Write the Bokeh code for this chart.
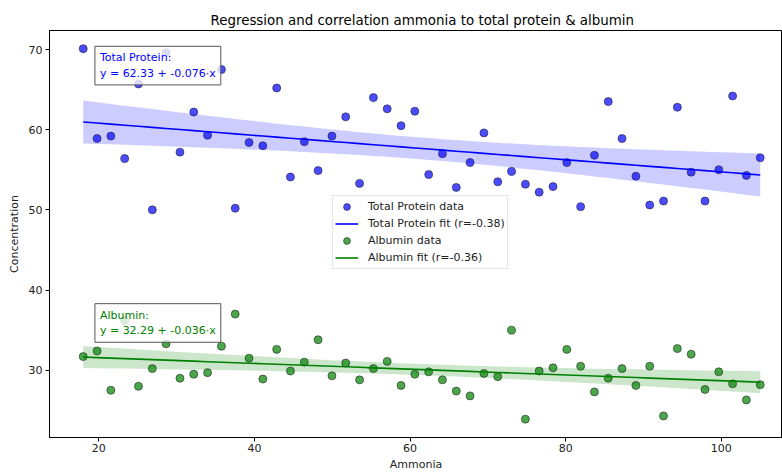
import numpy as np
from bokeh.plotting import figure
from bokeh.models import Range1d, Label, Legend, LegendItem, FixedTicker
from bokeh.embed import file_html
from bokeh.resources import INLINE

# ---- data ----
ammonia = [18.0, 19.78, 21.55, 23.33, 25.10, 26.88, 28.65, 30.43, 32.20, 33.98,
           35.76, 37.53, 39.31, 41.08, 42.86, 44.63, 46.41, 48.18, 49.96, 51.73,
           53.51, 55.29, 57.06, 58.84, 60.61, 62.39, 64.16, 65.94, 67.71, 69.49,
           71.27, 73.04, 74.82, 76.59, 78.37, 80.14, 81.92, 83.69, 85.47, 87.24,
           89.02, 90.80, 92.57, 94.35, 96.12, 97.90, 99.67, 101.45, 103.22, 105.0]
total_protein = [70.1, 58.9, 59.2, 56.4, 65.7, 50.0, 69.6, 57.2, 62.2, 59.3,
                 67.5, 50.2, 58.4, 58.0, 65.2, 54.1, 58.5, 54.9, 59.2, 61.6,
                 53.3, 64.0, 62.6, 60.5, 62.3, 54.4, 57.0, 52.8, 55.9, 59.6,
                 53.5, 54.8, 53.2, 52.2, 52.9, 55.9, 50.4, 56.8, 63.5, 58.9,
                 54.2, 50.6, 51.1, 62.8, 54.7, 51.1, 55.0, 64.2, 54.3, 56.5]
albumin = [31.7, 32.4, 27.5, 36.2, 28.0, 30.2, 33.3, 29.0, 29.5, 29.7,
           33.0, 37.0, 31.5, 28.9, 32.6, 29.9, 31.0, 33.8, 29.3, 30.9,
           28.8, 30.2, 31.1, 28.1, 29.5, 29.8, 28.8, 27.4, 26.8, 29.6,
           29.2, 35.0, 23.9, 29.9, 30.3, 32.6, 30.5, 27.3, 29.0, 30.2,
           28.1, 30.5, 24.3, 32.7, 32.0, 27.6, 29.8, 28.3, 26.3, 28.2]
tp_intercept, tp_slope, tp_r = 62.33, -0.076, -0.38
alb_intercept, alb_slope, alb_r = 32.29, -0.036, -0.36
x_ticks = [20, 40, 60, 80, 100]
y_ticks = [30, 40, 50, 60, 70]

title = "Regression and correlation ammonia to total protein & albumin"
FONT = "DejaVu Sans"


def fit_and_band(x, y, a, b):
    x = np.asarray(x, dtype=float)
    y = np.asarray(y, dtype=float)
    yhat = a + b * x
    n = len(x)
    s = np.sqrt(np.sum((y - yhat) ** 2) / (n - 2))
    sxx = np.sum((x - x.mean()) ** 2)
    h = 2.01 * s * np.sqrt(1.0 / n + (x - x.mean()) ** 2 / sxx)
    return yhat, yhat - h, yhat + h


x = np.asarray(ammonia)
tp_line, tp_lo, tp_hi = fit_and_band(ammonia, total_protein, tp_intercept, tp_slope)
al_line, al_lo, al_hi = fit_and_band(ammonia, albumin, alb_intercept, alb_slope)

p = figure(width=782, height=474, output_backend="svg", toolbar_location=None,
           x_range=Range1d(13.665, 107.86), y_range=Range1d(21.61, 72.37),
           min_border_left=49, min_border_right=0, min_border_top=30, min_border_bottom=37)

p.title.text = title
p.title.align = "left"
p.title.offset = 161
p.title.standoff = 6
p.title.text_font = FONT
p.title.text_font_size = "13.4px"
p.title.text_font_style = "normal"
p.title.text_color = "black"

p.xgrid.visible = False
p.ygrid.visible = False
p.outline_line_color = "black"
p.outline_line_width = 1
p.background_fill_color = "white"

for ax in (p.xaxis[0], p.yaxis[0]):
    ax.axis_line_color = "black"
    ax.major_tick_line_color = "black"
    ax.major_tick_out = 4
    ax.major_tick_in = 0
    ax.minor_tick_line_color = None
    ax.major_label_text_font = FONT
    ax.major_label_text_font_size = "11px"
    ax.major_label_text_color = "#222222"
    ax.major_label_text_line_height = 1.0
    ax.axis_label_text_font = FONT
    ax.axis_label_text_font_size = "11px"
    ax.axis_label_text_font_style = "normal"
    ax.axis_label_text_color = "#222222"
    ax.axis_label_text_line_height = 1.0
p.xaxis.ticker = FixedTicker(ticks=x_ticks)
p.yaxis.ticker = FixedTicker(ticks=y_ticks)
p.xaxis.axis_label = "Ammonia"
p.yaxis.axis_label = "Concentration"
p.xaxis.major_label_standoff = 2
p.xaxis.axis_label_standoff = 3
p.yaxis.major_label_standoff = 3
p.yaxis.axis_label_standoff = 5

# bands
p.varea(x=x, y1=tp_lo, y2=tp_hi, fill_color="blue", fill_alpha=0.2)
p.varea(x=x, y1=al_lo, y2=al_hi, fill_color="green", fill_alpha=0.2)

tp_sc = p.scatter(x, total_protein, size=8, fill_color="blue", fill_alpha=0.7,
                  line_color="#222244", line_width=0.8, line_alpha=0.8)
tp_ln = p.line(x, tp_line, line_color="blue", line_width=1.6)
al_sc = p.scatter(x, albumin, size=8, fill_color="green", fill_alpha=0.7,
                  line_color="#223322", line_width=0.8, line_alpha=0.8)
al_ln = p.line(x, al_line, line_color="green", line_width=1.6)

legend = Legend(items=[
    LegendItem(label="Total Protein data", renderers=[tp_sc]),
    LegendItem(label=f"Total Protein fit (r={tp_r:.2f})", renderers=[tp_ln]),
    LegendItem(label="Albumin data", renderers=[al_sc]),
    LegendItem(label=f"Albumin fit (r={alb_r:.2f})", renderers=[al_ln]),
], location=(283, 168))
legend.label_text_font = FONT
legend.label_text_font_size = "11px"
legend.label_text_color = "#222222"
legend.label_height = 17
legend.glyph_height = 17
legend.glyph_width = 23
legend.spacing = 0
legend.padding = 2
legend.margin = 0
legend.label_standoff = 10
legend.border_line_color = "#cccccc"
legend.background_fill_alpha = 0.8
p.add_layout(legend, "center")

lab1 = Label(x=19.5, y=70.4, text=f"Total Protein:\ny = {tp_intercept:.2f} + {tp_slope:.3f}·x",
             anchor="top_left", text_font=FONT, text_font_size="11px", text_color="blue",
             background_fill_color="white", background_fill_alpha=0.8,
             border_line_color="#555555", border_line_width=1, padding=5)
lab2 = Label(x=19.5, y=38.3, text=f"Albumin:\ny = {alb_intercept:.2f} + {alb_slope:.3f}·x",
             anchor="top_left", text_font=FONT, text_font_size="11px", text_color="green",
             background_fill_color="white", background_fill_alpha=0.8,
             border_line_color="#555555", border_line_width=1, padding=5)
p.add_layout(lab1)
p.add_layout(lab2)

open("out.html", "w").write(file_html(p, INLINE))
